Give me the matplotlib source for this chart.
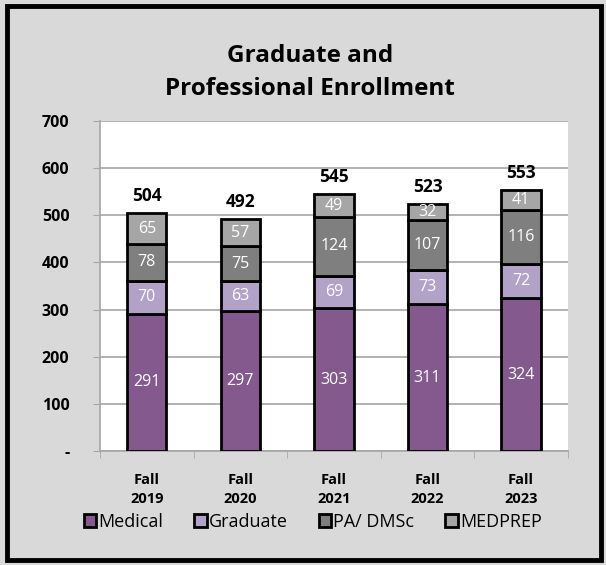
import numpy as np
import matplotlib.pyplot as plt
from matplotlib.patches import Rectangle

terms = ['Fall\n2019', 'Fall\n2020', 'Fall\n2021', 'Fall\n2022', 'Fall\n2023']
medical = [291, 297, 303, 311, 324]
graduate = [70, 63, 69, 73, 72]
pa_dmsc = [78, 75, 124, 107, 116]
medprep = [65, 57, 49, 32, 41]

series = [
    ('Medical', medical, '#845a8e'),
    ('Graduate', graduate, '#b3a2c7'),
    ('PA/ DMSc', pa_dmsc, '#7f7f7f'),
    ('MEDPREP', medprep, '#a6a6a6'),
]

plt.rcParams['font.family'] = ['Open Sans', 'DejaVu Sans']

fig = plt.figure(figsize=(6.06, 5.65), dpi=100)
fig.patch.set_facecolor('#d9d9d9')
fig.patches.append(Rectangle((0.0115, 0.009), 0.98, 0.98, transform=fig.transFigure,
                             fill=False, edgecolor='black', linewidth=3.5))

ax = fig.add_axes([0.165, 0.2018, 0.772, 0.584])
ax.set_facecolor('white')

x = np.arange(len(terms))
bottom = np.zeros(len(terms))
handles = []
for name, vals, color in series:
    vals = np.array(vals)
    bars = ax.bar(x, vals, 0.42, bottom=bottom, color=color, edgecolor='black',
                  linewidth=2, label=name, zorder=3)
    handles.append(bars)
    for xi, b, v in zip(x, bottom, vals):
        ax.text(xi, b + v / 2, str(v), ha='center', va='center', color='white',
                fontsize=11.5, zorder=4)
    bottom = bottom + vals

totals = bottom
for xi, t in zip(x, totals):
    ax.text(xi, t + 36, f'{int(t)}', ha='center', va='center', fontsize=12.5,
            fontweight='bold', zorder=4)

# Y axis
ax.set_ylim(0, 700)
ax.set_yticks(np.arange(0, 701, 100))
ax.set_yticklabels(['-'] + [str(v) for v in range(100, 701, 100)],
                   fontweight='bold', fontsize=11.5)
ax.grid(axis='y', color='#a6a6a6', linewidth=1.2, zorder=0)
ax.tick_params(axis='y', length=5, color='#a6a6a6', pad=17)

# X axis
ax.set_xlim(-0.5, len(terms) - 0.5)
ax.set_xticks(x)
ax.set_xticklabels(terms, fontweight='bold', fontsize=10.5, linespacing=1.45)
ax.set_xticks(np.arange(-0.5, len(terms), 1), minor=True)
ax.tick_params(axis='x', which='major', length=0, pad=16)
ax.tick_params(axis='x', which='minor', length=5, color='#a6a6a6')

for side in ['top', 'right']:
    ax.spines[side].set_visible(False)
for side in ['left', 'bottom']:
    ax.spines[side].set_color('#a6a6a6')
    ax.spines[side].set_linewidth(1.2)

fig.text(0.511, 0.872, 'Graduate and\nProfessional Enrollment', ha='center',
         va='center', fontsize=17.5, fontweight='bold', linespacing=1.5)

fig.legend(handles=handles, loc='center', bbox_to_anchor=(0.516, 0.076),
           ncol=4, frameon=False, fontsize=13, handlelength=0.7,
           handleheight=0.7, handletextpad=0.12, columnspacing=1.7)

plt.savefig('out.png', dpi=100, facecolor=fig.get_facecolor())
